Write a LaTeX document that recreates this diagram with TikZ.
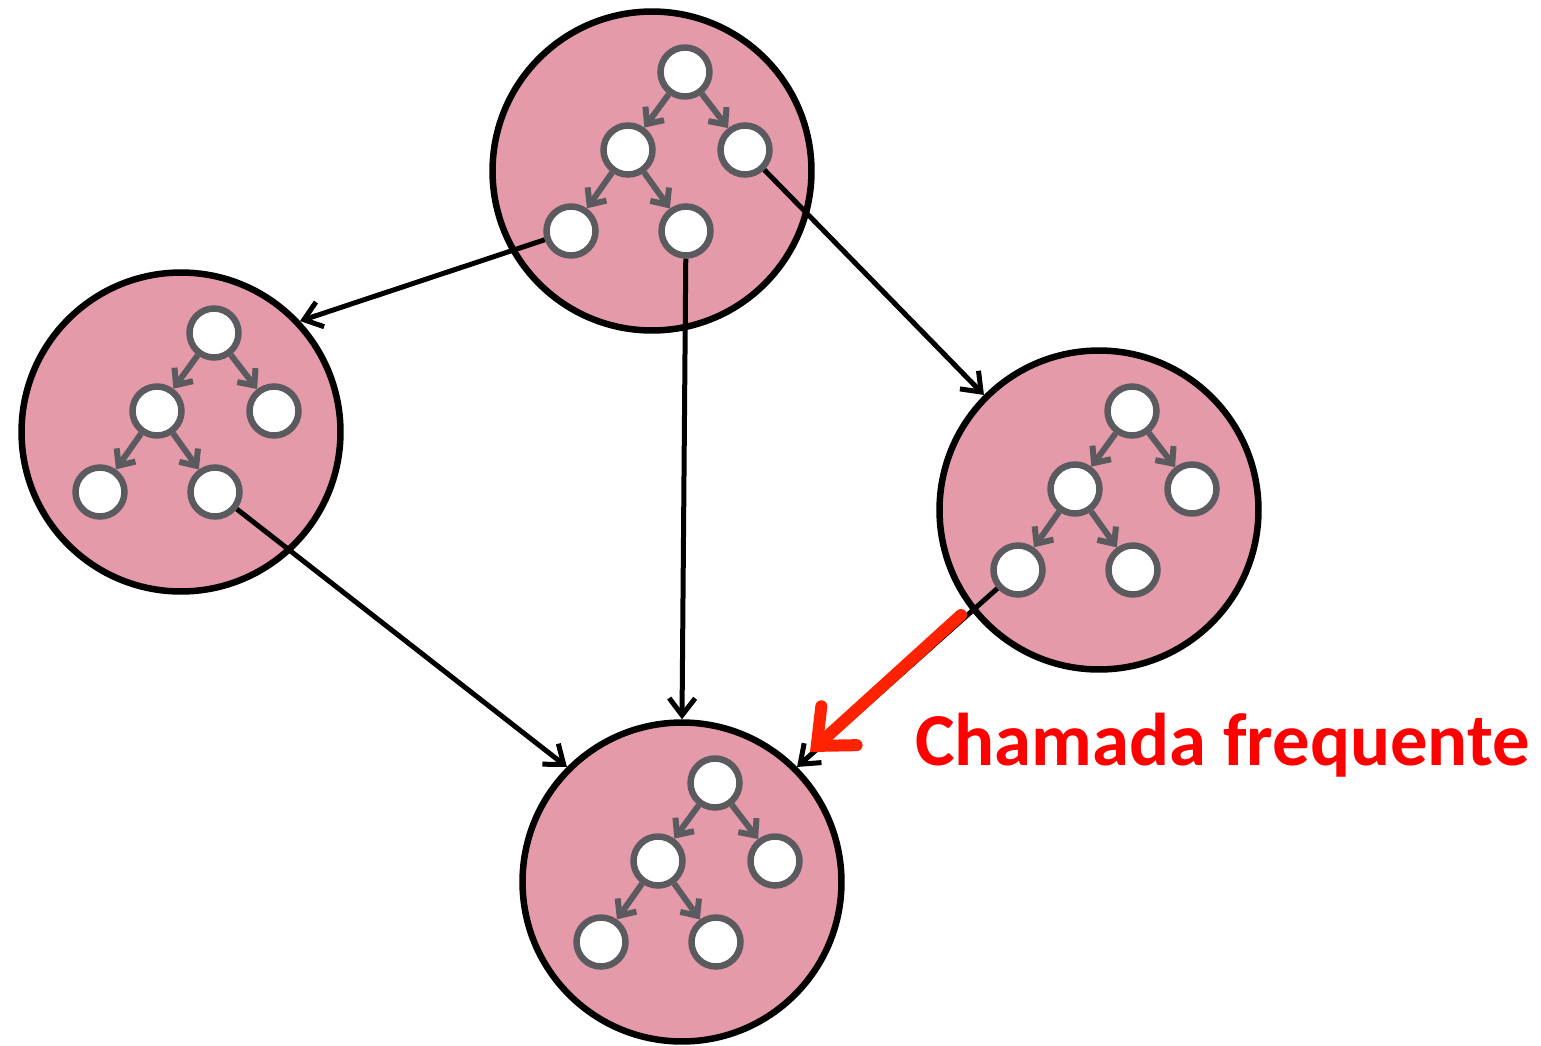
\documentclass[tikz,border=0pt]{standalone}
\usepackage{fontspec}
\newfontfamily\labelfont{Carlito}
\usetikzlibrary{arrows.meta,calc}
\definecolor{pinkfill}{HTML}{E59AAA}
\definecolor{treegray}{HTML}{5A5A5F}
\definecolor{callred}{HTML}{FF2200}
\begin{document}
\begin{tikzpicture}[x=0.02cm,y=-0.02cm,
  bigc/.style={circle,draw=black,fill=pinkfill,line width=0.13cm,minimum size=6.38cm,inner sep=0pt},
  smallc/.style={circle,draw=treegray,fill=white,line width=0.13cm,minimum size=0.98cm,inner sep=0pt},
  treearrow/.style={draw=treegray,line width=0.12cm,-{Straight Barb[length=0.26cm,width=0.46cm]}},
  linkarrow/.style={draw=black,line width=0.1cm,-{Straight Barb[length=0.34cm,width=0.52cm]}},
  hotarrow/.style={draw=callred,line width=0.24cm,line cap=round,-{Straight Barb[length=0.6cm,width=1.05cm,line cap=round]}},
  hotlabel/.style={text=red,font=\labelfont\bfseries\fontsize{42.5pt}{50pt}\selectfont,inner sep=0pt,anchor=base west}
]
\useasboundingbox (0,0) rectangle (1541,1045);
% big circles
\node[bigc] (T) at (652,171) {};
\node[bigc] (L) at (181,432) {};
\node[bigc] (R) at (1099,510) {};
\node[bigc] (B) at (682,882) {};
% small trees
\foreach \n/\cx/\cy in {T/652/171, L/181/432, R/1099/510, B/682/882}{
  \node[smallc] (\n0) at (\cx+33,\cy-99) {};
  \node[smallc] (\n1) at (\cx-24,\cy-21) {};
  \node[smallc] (\n2) at (\cx+93,\cy-21) {};
  \node[smallc] (\n3) at (\cx-81,\cy+60) {};
  \node[smallc] (\n4) at (\cx+34,\cy+60) {};
  \draw[treearrow] (\n0) -- (\n1);
  \draw[treearrow] (\n0) -- (\n2);
  \draw[treearrow] (\n1) -- (\n3);
  \draw[treearrow] (\n1) -- (\n4);
}
% links between trees
\draw[linkarrow] (T3) -- (L.43);
\draw[linkarrow] (T4) -- (B.north);
\draw[linkarrow] (T2) -- (R.135);
\draw[linkarrow] (L4) -- (B.135);
\draw[linkarrow] (R3) -- (B.45);
% highlighted call
\coordinate (hs) at (961,615);
\coordinate (ht) at (810,752);
\draw[hotarrow] (hs) -- (ht);
\node[hotlabel] (lbl) at (915,765) {Chamada frequente};
\end{tikzpicture}
\end{document}
